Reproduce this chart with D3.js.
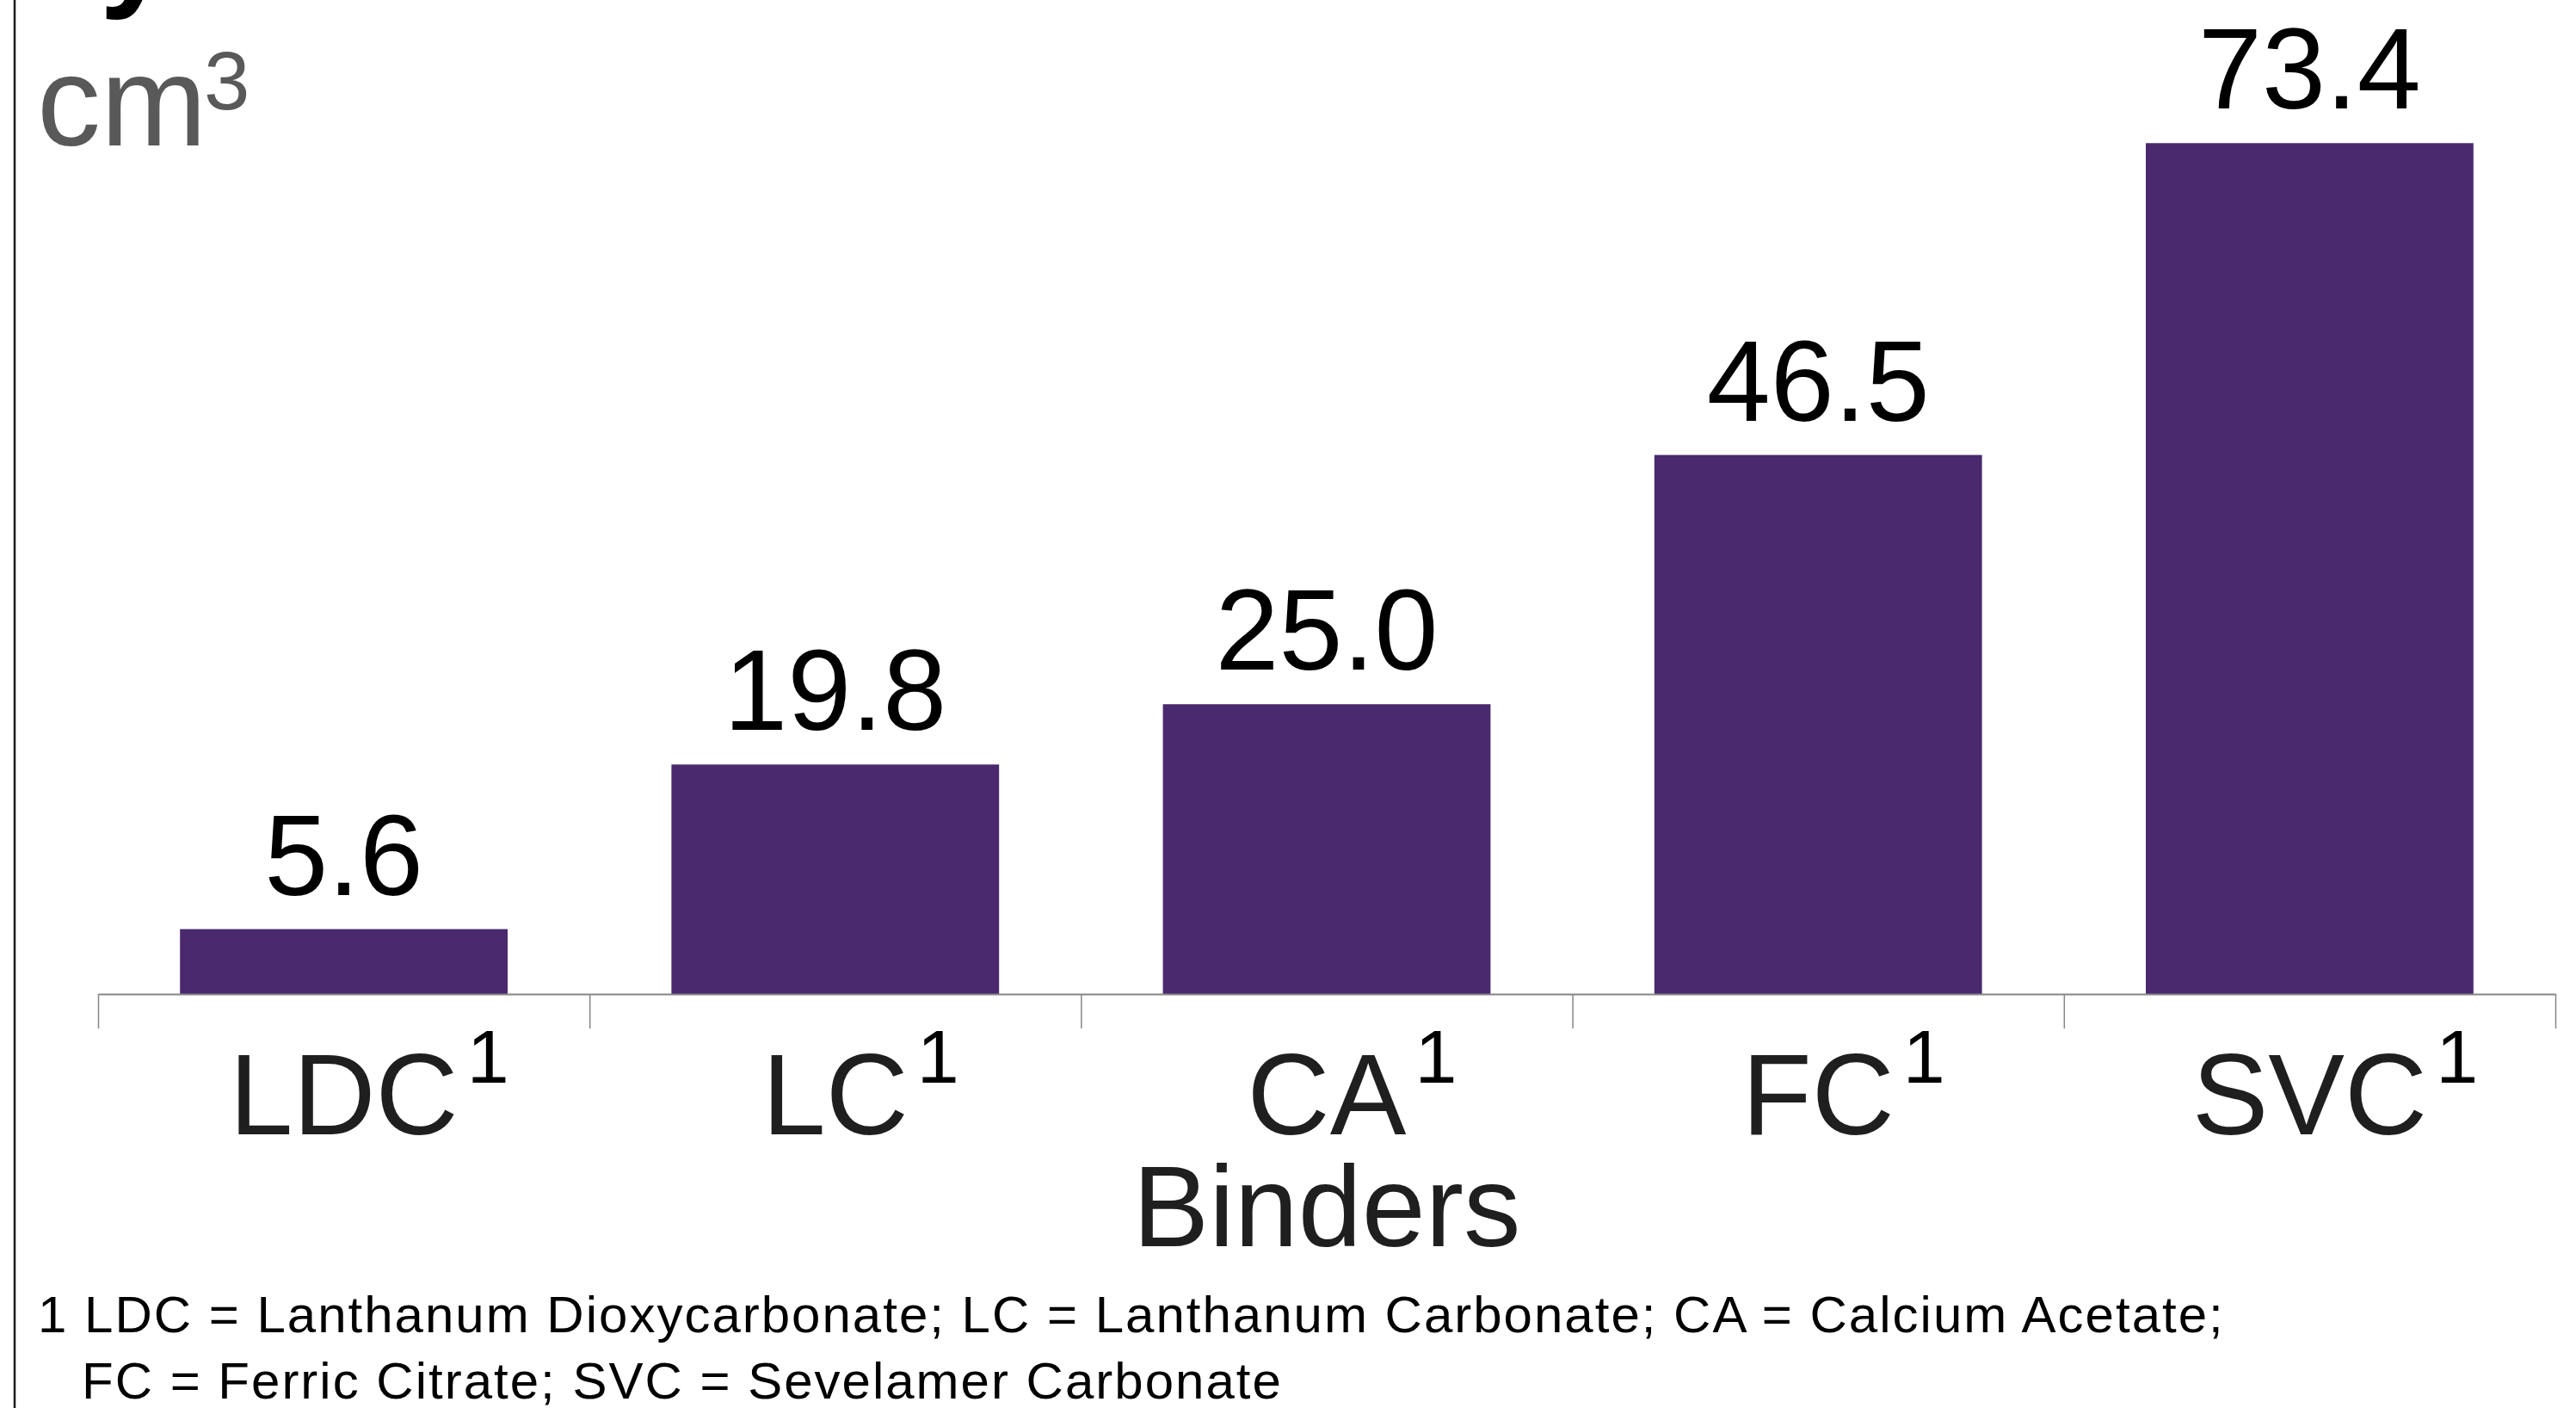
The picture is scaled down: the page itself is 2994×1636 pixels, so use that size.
<!DOCTYPE html>
<html>
<head>
<meta charset="utf-8">
<script src="https://cdn.jsdelivr.net/npm/d3@7"></script>
<style>
  html, body { margin: 0; padding: 0; background: #ffffff; }
  svg { display: block; font-family: "Liberation Sans", Arial, Helvetica, sans-serif; }
</style>
</head>
<body>
<svg id="chart" width="2994" height="1636"></svg>
<script>
// Phosphate binder volumes (cm³) per daily dose
const categories = ["LDC", "LC", "CA", "FC", "SVC"];
const categoryNote = ["1", "1", "1", "1", "1"];
const volumes = [5.6, 19.8, 25.0, 46.5, 73.4];
const unitLabel = "cm";
const unitPower = "3";
const axisTitle = "Binders";
const footnoteLines = [
  "1 LDC = Lanthanum Dioxycarbonate; LC = Lanthanum Carbonate; CA = Calcium Acetate;",
  "FC = Ferric Citrate; SVC = Sevelamer Carbonate"
];

const svg = d3.select("#chart");
const W = 2994, H = 1636;
const plot = { left: 114, right: 2970, base: 1155 };
const barColor = "#4a296e";

// left frame rule
svg.append("line")
  .attr("x1", 17).attr("x2", 17).attr("y1", 0).attr("y2", H)
  .attr("stroke", "#1a1a1a").attr("stroke-width", 2.5);

// descender of the heading that sits above the visible area
svg.append("text")
  .attr("x", 116).attr("y", -8)
  .attr("font-size", 150).attr("font-weight", "bold")
  .attr("fill", "#000")
  .text("y");

// unit label
svg.append("text")
  .attr("x", 43).attr("y", 169)
  .attr("font-size", 148).attr("fill", "#595959")
  .text(unitLabel);
svg.append("text")
  .attr("x", 237).attr("y", 127)
  .attr("font-size", 96).attr("fill", "#595959")
  .text(unitPower);

const x = d3.scaleBand()
  .domain(categories)
  .range([plot.left, plot.right])
  .paddingInner(1 / 3)
  .paddingOuter(1 / 6);

const y = d3.scaleLinear()
  .domain([0, 80])
  .range([plot.base, plot.base - 80 * 13.47]);

// bars
svg.append("g")
  .selectAll("rect")
  .data(volumes)
  .join("rect")
  .attr("x", (d, i) => x(categories[i]))
  .attr("width", x.bandwidth())
  .attr("y", d => y(d))
  .attr("height", d => y(0) - y(d))
  .attr("fill", barColor);

// value labels
const fmt = d3.format(".1f");
svg.append("g")
  .selectAll("text")
  .data(volumes)
  .join("text")
  .attr("x", (d, i) => x(categories[i]) + x.bandwidth() / 2)
  .attr("y", d => y(d) - 40)
  .attr("text-anchor", "middle")
  .attr("font-size", 133)
  .attr("fill", "#000")
  .text(d => fmt(d));

// category axis with ticks on the band boundaries
const xb = d3.scaleLinear().domain([0, categories.length]).range([plot.left, plot.right]);
const axis = svg.append("g")
  .attr("transform", `translate(0,${plot.base})`)
  .call(d3.axisBottom(xb)
    .tickValues(d3.range(0, categories.length + 1))
    .tickFormat("")
    .tickSize(40)
    .tickSizeOuter(0));
axis.select(".domain").attr("stroke", "#868686").attr("stroke-width", 2);
axis.selectAll(".tick line").attr("stroke", "#868686").attr("stroke-width", 1.5);

// category labels with footnote markers
const catG = svg.append("g");
categories.forEach((c, i) => {
  const cx = x(c) + x.bandwidth() / 2;
  const t = catG.append("text")
    .attr("x", cx).attr("y", 1318)
    .attr("text-anchor", "middle")
    .attr("font-size", 133)
    .attr("fill", "#1f1f1f")
    .text(c);
  const w = t.node().getComputedTextLength();
  catG.append("text")
    .attr("x", cx + w / 2 + 10).attr("y", 1258)
    .attr("font-size", 88)
    .attr("fill", "#000")
    .text(categoryNote[i]);
});

// axis title
svg.append("text")
  .attr("x", (plot.left + plot.right) / 2).attr("y", 1448)
  .attr("text-anchor", "middle")
  .attr("font-size", 133)
  .attr("fill", "#1f1f1f")
  .text(axisTitle);

// footnote
svg.append("g")
  .selectAll("text")
  .data(footnoteLines)
  .join("text")
  .attr("x", (d, i) => i === 0 ? 44 : 95)
  .attr("y", (d, i) => 1548 + i * 77)
  .attr("font-size", 60)
  .attr("letter-spacing", 2)
  .attr("fill", "#000")
  .text(d => d);
</script>
</body>
</html>
